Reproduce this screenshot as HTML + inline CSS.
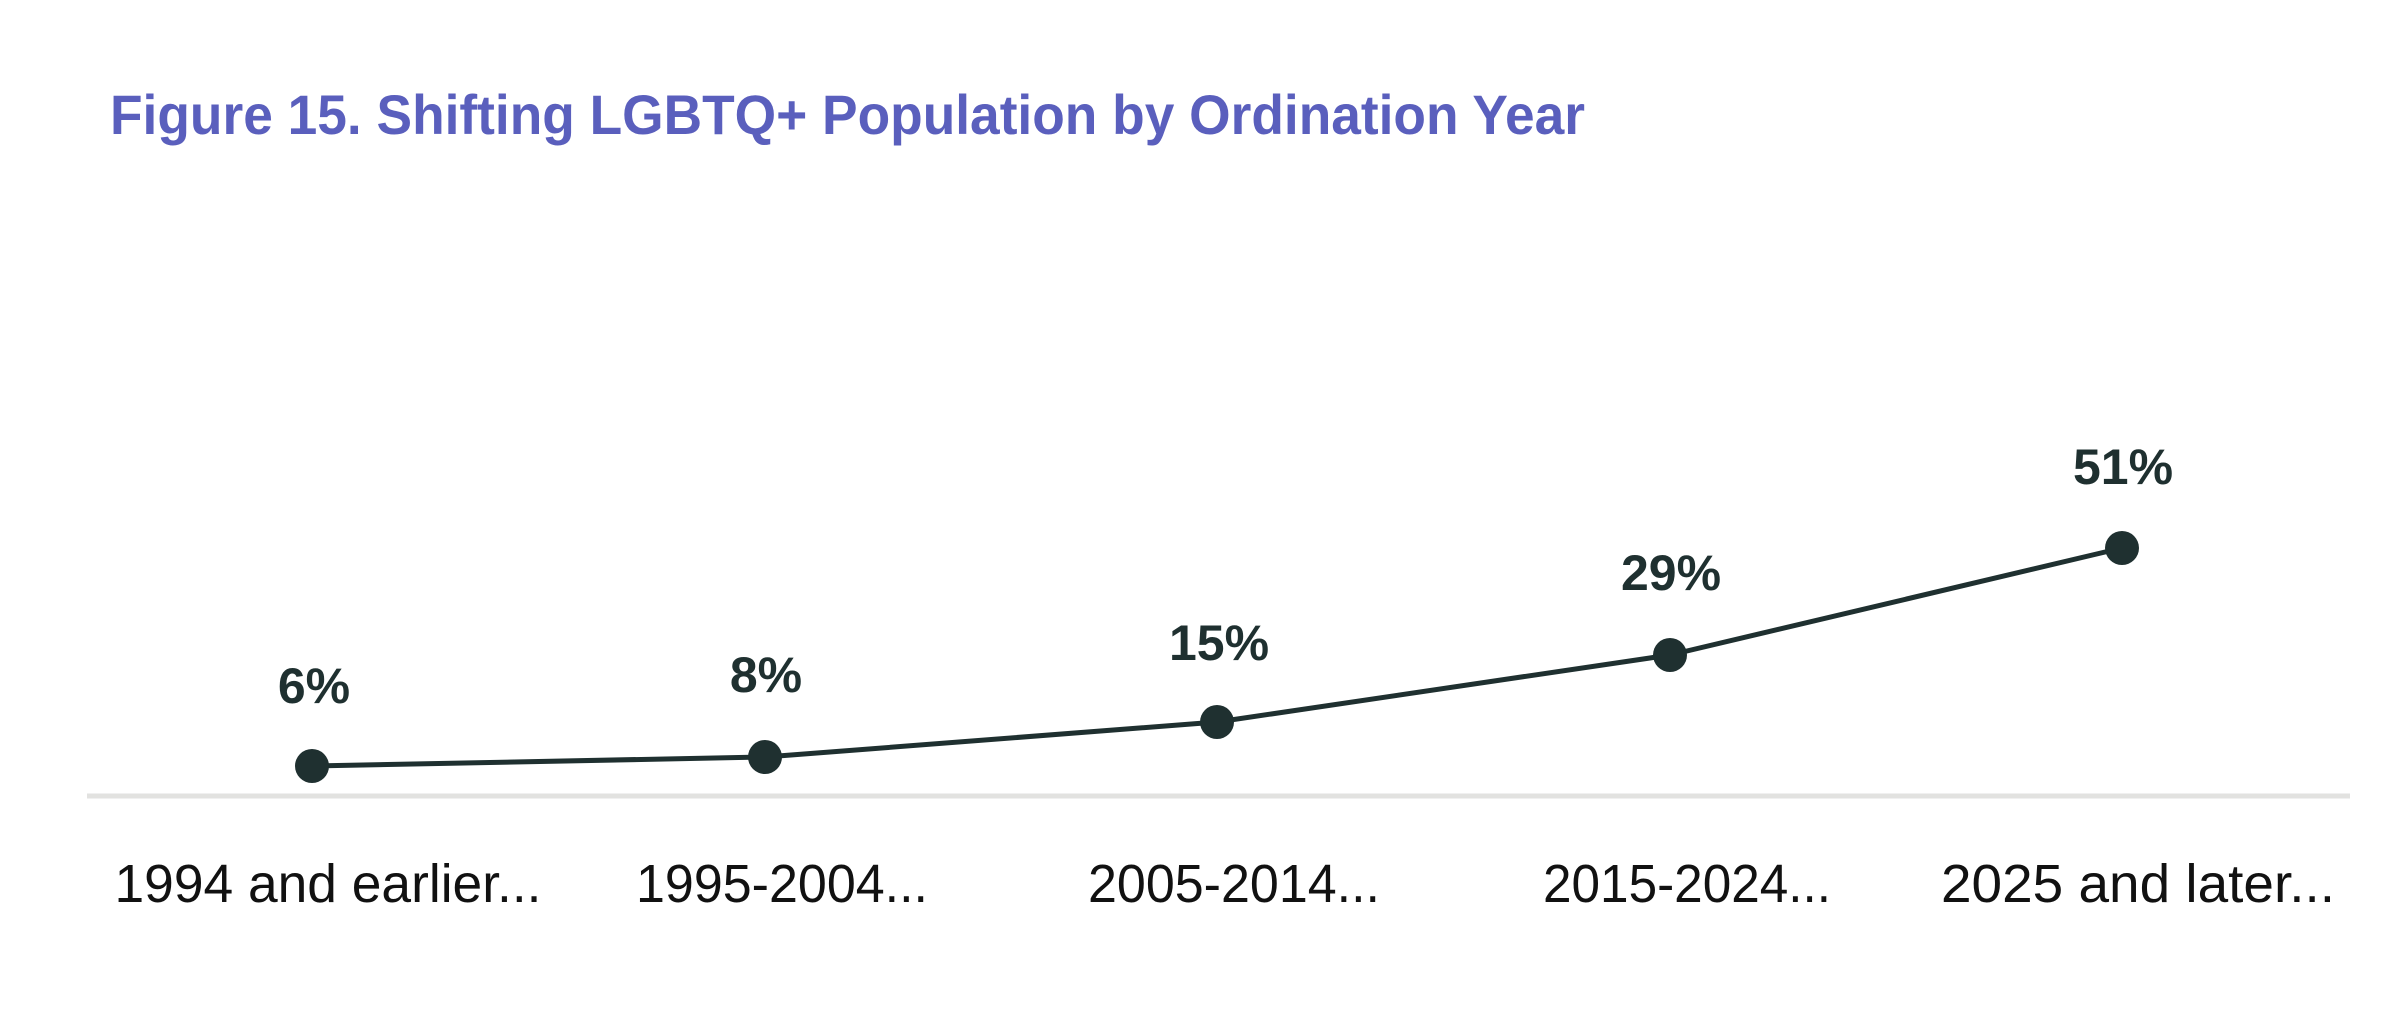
<!DOCTYPE html>
<html><head><meta charset="utf-8"><style>
html,body{margin:0;padding:0;background:#fff;width:2400px;height:1022px;overflow:hidden}
</style></head><body>
<svg width="2400" height="1022" viewBox="0 0 2400 1022" xmlns="http://www.w3.org/2000/svg" font-family="Liberation Sans, sans-serif">
<text x="110" y="134" font-size="56" font-weight="bold" fill="#5a5fbd" textLength="1475" lengthAdjust="spacingAndGlyphs">Figure 15. Shifting LGBTQ+ Population by Ordination Year</text>
<line x1="87" y1="796" x2="2350" y2="796" stroke="#e2e2e0" stroke-width="5"/>
<polyline points="312,766 765,757 1217,722 1670,655 2122,548" fill="none" stroke="#1f3030" stroke-width="5" stroke-linejoin="round"/>
<g fill="#1f3030">
<circle cx="312" cy="766" r="17"/><circle cx="765" cy="757" r="17"/><circle cx="1217" cy="722" r="17"/><circle cx="1670" cy="655" r="17"/><circle cx="2122" cy="548" r="17"/>
</g>
<g font-size="50" font-weight="bold" fill="#1f3030" text-anchor="middle">
<text x="314" y="703">6%</text>
<text x="766" y="692">8%</text>
<text x="1219" y="660">15%</text>
<text x="1671" y="590">29%</text>
<text x="2123" y="484">51%</text>
</g>
<g font-size="54" fill="#111" text-anchor="middle">
<text x="328" y="902" textLength="427" lengthAdjust="spacingAndGlyphs">1994 and earlier...</text>
<text x="782" y="902" textLength="292" lengthAdjust="spacingAndGlyphs">1995-2004...</text>
<text x="1234" y="902" textLength="292" lengthAdjust="spacingAndGlyphs">2005-2014...</text>
<text x="1687" y="902" textLength="288" lengthAdjust="spacingAndGlyphs">2015-2024...</text>
<text x="2138" y="902" textLength="394" lengthAdjust="spacingAndGlyphs">2025 and later...</text>
</g>
</svg>
</body></html>
